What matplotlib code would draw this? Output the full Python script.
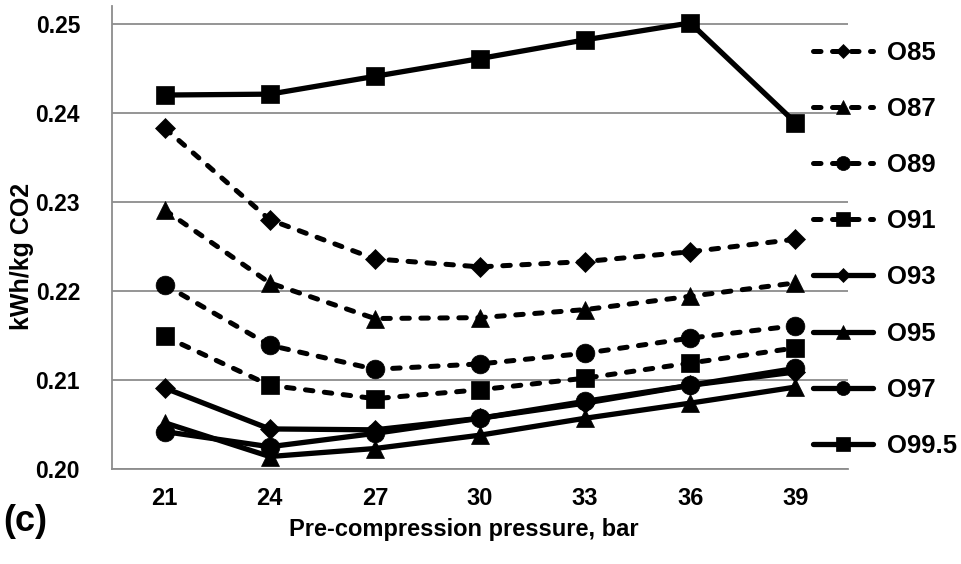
import numpy as np
import matplotlib.pyplot as plt

# Specific energy vs pre-compression pressure, one line per oxygen purity
pressure = [21, 24, 27, 30, 33, 36, 39]

o85 = [0.2383, 0.2280, 0.2236, 0.2227, 0.2233, 0.2244, 0.2258]
o87 = [0.2291, 0.2209, 0.2169, 0.2170, 0.2179, 0.2194, 0.2209]
o89 = [0.2207, 0.2139, 0.2112, 0.2118, 0.2130, 0.2147, 0.2161]
o91 = [0.2149, 0.2094, 0.2079, 0.2089, 0.2102, 0.2119, 0.2136]
o93 = [0.2091, 0.2045, 0.2044, 0.2057, 0.2074, 0.2094, 0.2109]
o95 = [0.2052, 0.2014, 0.2023, 0.2038, 0.2057, 0.2074, 0.2092]
o97 = [0.2042, 0.2025, 0.2040, 0.2057, 0.2076, 0.2094, 0.2113]
o995 = [0.2420, 0.2421, 0.2441, 0.2461, 0.2482, 0.2501, 0.2389]

labels = ["O85", "O87", "O89", "O91", "O93", "O95", "O97", "O99.5"]
series = [o85, o87, o89, o91, o93, o95, o97, o995]
markers = ["D", "^", "o", "s", "D", "^", "o", "s"]
dashed = [True, True, True, True, False, False, False, False]
yticks = [0.20, 0.21, 0.22, 0.23, 0.24, 0.25]

plt.rcParams["font.family"] = ["Liberation Sans", "DejaVu Sans"]
plt.rcParams["font.weight"] = "bold"

fig = plt.figure(figsize=(9.62, 5.64), dpi=100)
ax = fig.add_axes([112 / 962, 1 - 469 / 564, 736 / 962, 463 / 564])

grey = "#8c8c8c"
sizes = {"D": 10, "^": 13.5, "o": 13.5, "s": 13}

for lab, vals, mk, dsh in zip(labels, series, markers, dashed):
    if dsh:
        ax.plot(pressure, vals, color="black", lw=3.6, linestyle=(0, (1.5, 2.3)),
                dash_capstyle="round", marker=mk, ms=sizes[mk], mew=0.5,
                label=lab, clip_on=False)
    else:
        ax.plot(pressure, vals, color="black", lw=3.8, solid_capstyle="round",
                marker=mk, ms=sizes[mk], mew=0.5, label=lab, clip_on=False)

ax.set_xlim(19.5, 40.5)
ax.set_ylim(0.20, 0.252)
ax.set_xticks(pressure)
ax.set_xticklabels([str(p) for p in pressure])
ax.set_yticks(yticks)
ax.set_yticklabels(["%.2f" % v for v in yticks])

ax.grid(axis="y", color=grey, lw=1.3)
ax.set_axisbelow(True)
for side in ["top", "right"]:
    ax.spines[side].set_visible(False)
for side in ["left", "bottom"]:
    ax.spines[side].set_color(grey)
    ax.spines[side].set_linewidth(1.3)
ax.tick_params(length=0)
ax.tick_params(axis="y", pad=23, labelsize=16.5)
ax.tick_params(axis="x", pad=13, labelsize=17)

ax.set_xlabel("Pre-compression pressure, bar", fontsize=17, fontweight="bold")
ax.xaxis.set_label_coords((464 - 112) / 736, -0.106)
ax.set_ylabel("kWh/kg CO2", fontsize=18, fontweight="bold")
ax.yaxis.set_label_coords(-(112 - 34) / 736, 0.46)

leg = fig.legend(loc="upper left", bbox_to_anchor=(813 / 962, 1 - 41 / 564),
                 frameon=False, fontsize=18.5, handlelength=2.33,
                 handletextpad=0.55, labelspacing=1.25, markerscale=0.75,
                 borderaxespad=0, borderpad=0)

fig.text(3 / 962, 1 - 531 / 564, "(c)", fontsize=26, fontweight="bold")

fig.savefig("out.png", dpi=100)
